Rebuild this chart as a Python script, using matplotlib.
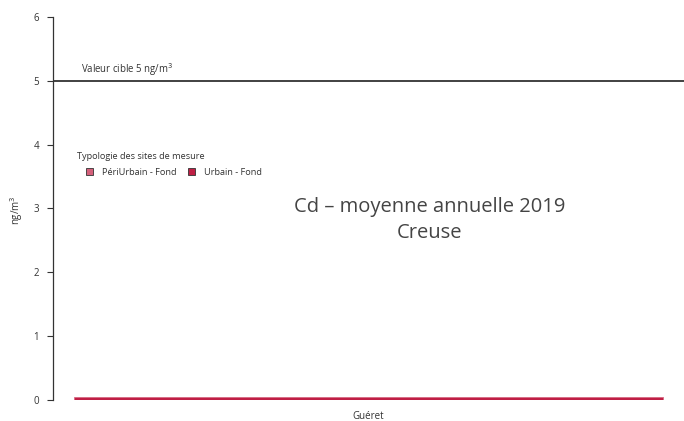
import matplotlib
matplotlib.use("Agg")
import matplotlib.pyplot as plt
from matplotlib.patches import Patch

plt.rcParams['font.family'] = ['Open Sans', 'DejaVu Sans']

# Data
sites = ["Guéret"]
typologies = ["PériUrbain - Fond", "Urbain - Fond"]
typology_colors = ["#d4607a", "#bf1f45"]
site_typology = ["Urbain - Fond"]
cd_values = [0.04]
target_value = 5
y_ticks = [0, 1, 2, 3, 4, 5, 6]

fig = plt.figure(figsize=(6.84, 4.21), dpi=100)
ax = fig.add_axes([53 / 684, 21 / 421, 631 / 684, 383 / 421])

colors = [typology_colors[typologies.index(t)] for t in site_typology]
ax.bar(range(len(sites)), cd_values, width=0.935, color=colors,
       edgecolor="#d86a83", linewidth=0.6, zorder=3)

ax.axhline(target_value, color="#333333", linewidth=1.3, zorder=2)
ax.text(-0.455, target_value + 0.05, "Valeur cible 5 ng/m$^3$",
        fontsize=6.9, color="#333333", ha="left", va="bottom")

ax.set_xlim(-0.5, 0.5)
ax.set_ylim(0, 6)
ax.set_yticks(y_ticks)
ax.set_yticklabels([str(v) for v in y_ticks], fontsize=7, color="#333333")
ax.set_xticks(range(len(sites)))
ax.set_xticklabels(sites, fontsize=7, color="#333333")
ax.tick_params(axis="x", length=0, pad=8)
ax.tick_params(axis="y", length=4, width=0.8, color="#333333", pad=6)
for side in ["top", "right", "bottom"]:
    ax.spines[side].set_visible(False)
ax.spines["left"].set_color("#333333")
ax.spines["left"].set_linewidth(0.9)

fig.text(17 / 684, 1 - 210 / 421, "ng/m$^3$", rotation=90, fontsize=7,
         color="#333333", ha="center", va="center")

ax.text(0.097, 2.82, "Cd – moyenne annuelle 2019\nCreuse", fontsize=14.5,
        color="#444444", ha="center", va="center", linespacing=1.45)

# Legend: title on its own line, entries indented below it
ax.text(0.038, 0.635, "Typologie des sites de mesure", transform=ax.transAxes,
        fontsize=6.6, color="#333333", ha="left", va="center")
handles = [Patch(facecolor=c, edgecolor="#333333", linewidth=0.6) for c in typology_colors]
leg = ax.legend(handles, typologies, loc="center left",
                bbox_to_anchor=(0.052, 0.594), ncol=2,
                frameon=False, fontsize=6.6,
                handlelength=0.75, handleheight=0.75, columnspacing=1.3,
                handletextpad=1.0, borderaxespad=0, borderpad=0)
for t in leg.get_texts():
    t.set_color("#333333")

fig.savefig("out.png", dpi=100)
